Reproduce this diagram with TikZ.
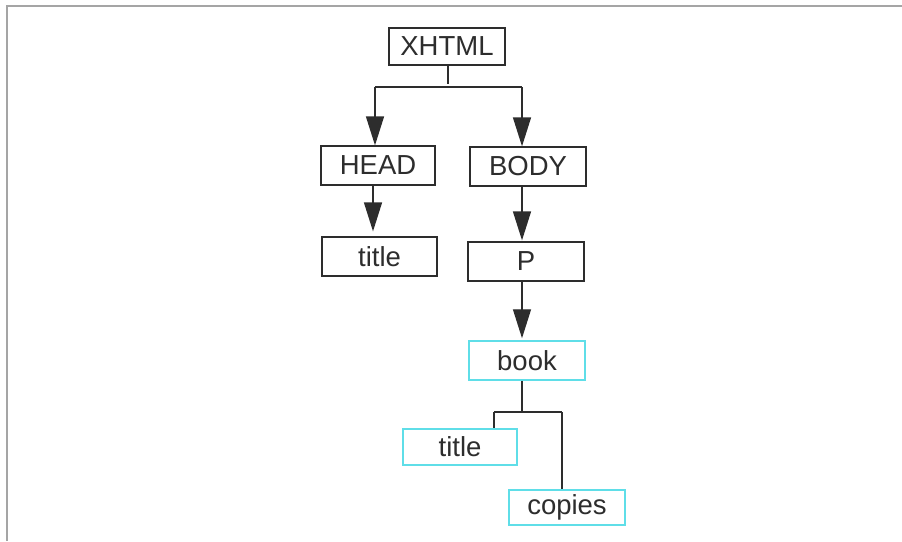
\documentclass[tikz,border=0pt]{standalone}
\usepackage{fontspec}
\setmainfont{Liberation Sans}
\usetikzlibrary{arrows.meta}
\definecolor{boxcyan}{RGB}{95,222,232}
\definecolor{ink}{RGB}{45,45,45}
\definecolor{frame}{RGB}{165,165,165}
\tikzset{
  box/.style={draw=ink, line width=1.3pt, rectangle, inner sep=0pt, text=ink,
    font=\fontsize{27.5}{32}\selectfont, minimum width=116pt, minimum height=38pt},
  cbox/.style={box, draw=boxcyan, line width=1.5pt},
  conn/.style={draw=ink, line width=1.4pt},
  arr/.style={conn, -{Triangle[width=18pt,length=29pt]}}
}
\begin{document}
\begin{tikzpicture}[x=1pt,y=-1pt]
\useasboundingbox (0,0) rectangle (902,541);
\fill[white] (0,0) rectangle (902,541);
\draw[frame, line width=2.2pt] (7,541) -- (7,6) -- (902,6);

\node[box, minimum width=116pt, minimum height=37pt] (xhtml) at (447,46.5) {XHTML};
\node[box, minimum width=114pt, minimum height=39pt] (head) at (378,165.5) {HEAD};
\node[box, minimum width=116pt, minimum height=39pt] (body) at (528,166.5) {BODY};
\node[box, minimum width=115pt, minimum height=39pt] (title1) at (379.5,256.5) {title};
\node[box, minimum width=116pt, minimum height=39pt] (p) at (526,261.5) {P};
\node[cbox, minimum width=116pt, minimum height=39pt] (book) at (527,360.5) {book};
\node[cbox, minimum width=114pt, minimum height=36pt] (title2) at (460,447) {title};
\node[cbox, minimum width=116pt, minimum height=35pt] (copies) at (567,507.5) {copies};

% XHTML fork
\coordinate (j1) at (448,87);
\coordinate (jl) at (375,87);
\coordinate (jr) at (522,87);
\draw[conn] ([xshift=1pt]xhtml.south) -- ([yshift=3pt]j1);
\draw[conn] (jl) -- (jr);
\draw[arr] (jl) -- (jl|-head.north);
\draw[arr] (jr) -- (jr|-body.north);

% HEAD -> title, BODY -> P, P -> book
\draw[arr] ([xshift=-5pt]head.south) -- ([xshift=-6.5pt,yshift=5pt]title1.north);
\draw[arr] ([xshift=-6pt]body.south) -- ([xshift=-4pt,yshift=1pt]p.north);
\draw[arr] ([xshift=-4pt]p.south) -- ([xshift=-5pt,yshift=2pt]book.north);

% book fork
\coordinate (b0) at (522,412);
\coordinate (bl) at (494,412);
\coordinate (br) at (562,412);
\draw[conn] ([xshift=-5pt]book.south) -- (b0);
\draw[conn] (bl) -- (br);
\draw[conn] (bl) -- (bl|-title2.north);
\draw[conn] (br) -- (br|-copies.north);
\end{tikzpicture}
\end{document}
